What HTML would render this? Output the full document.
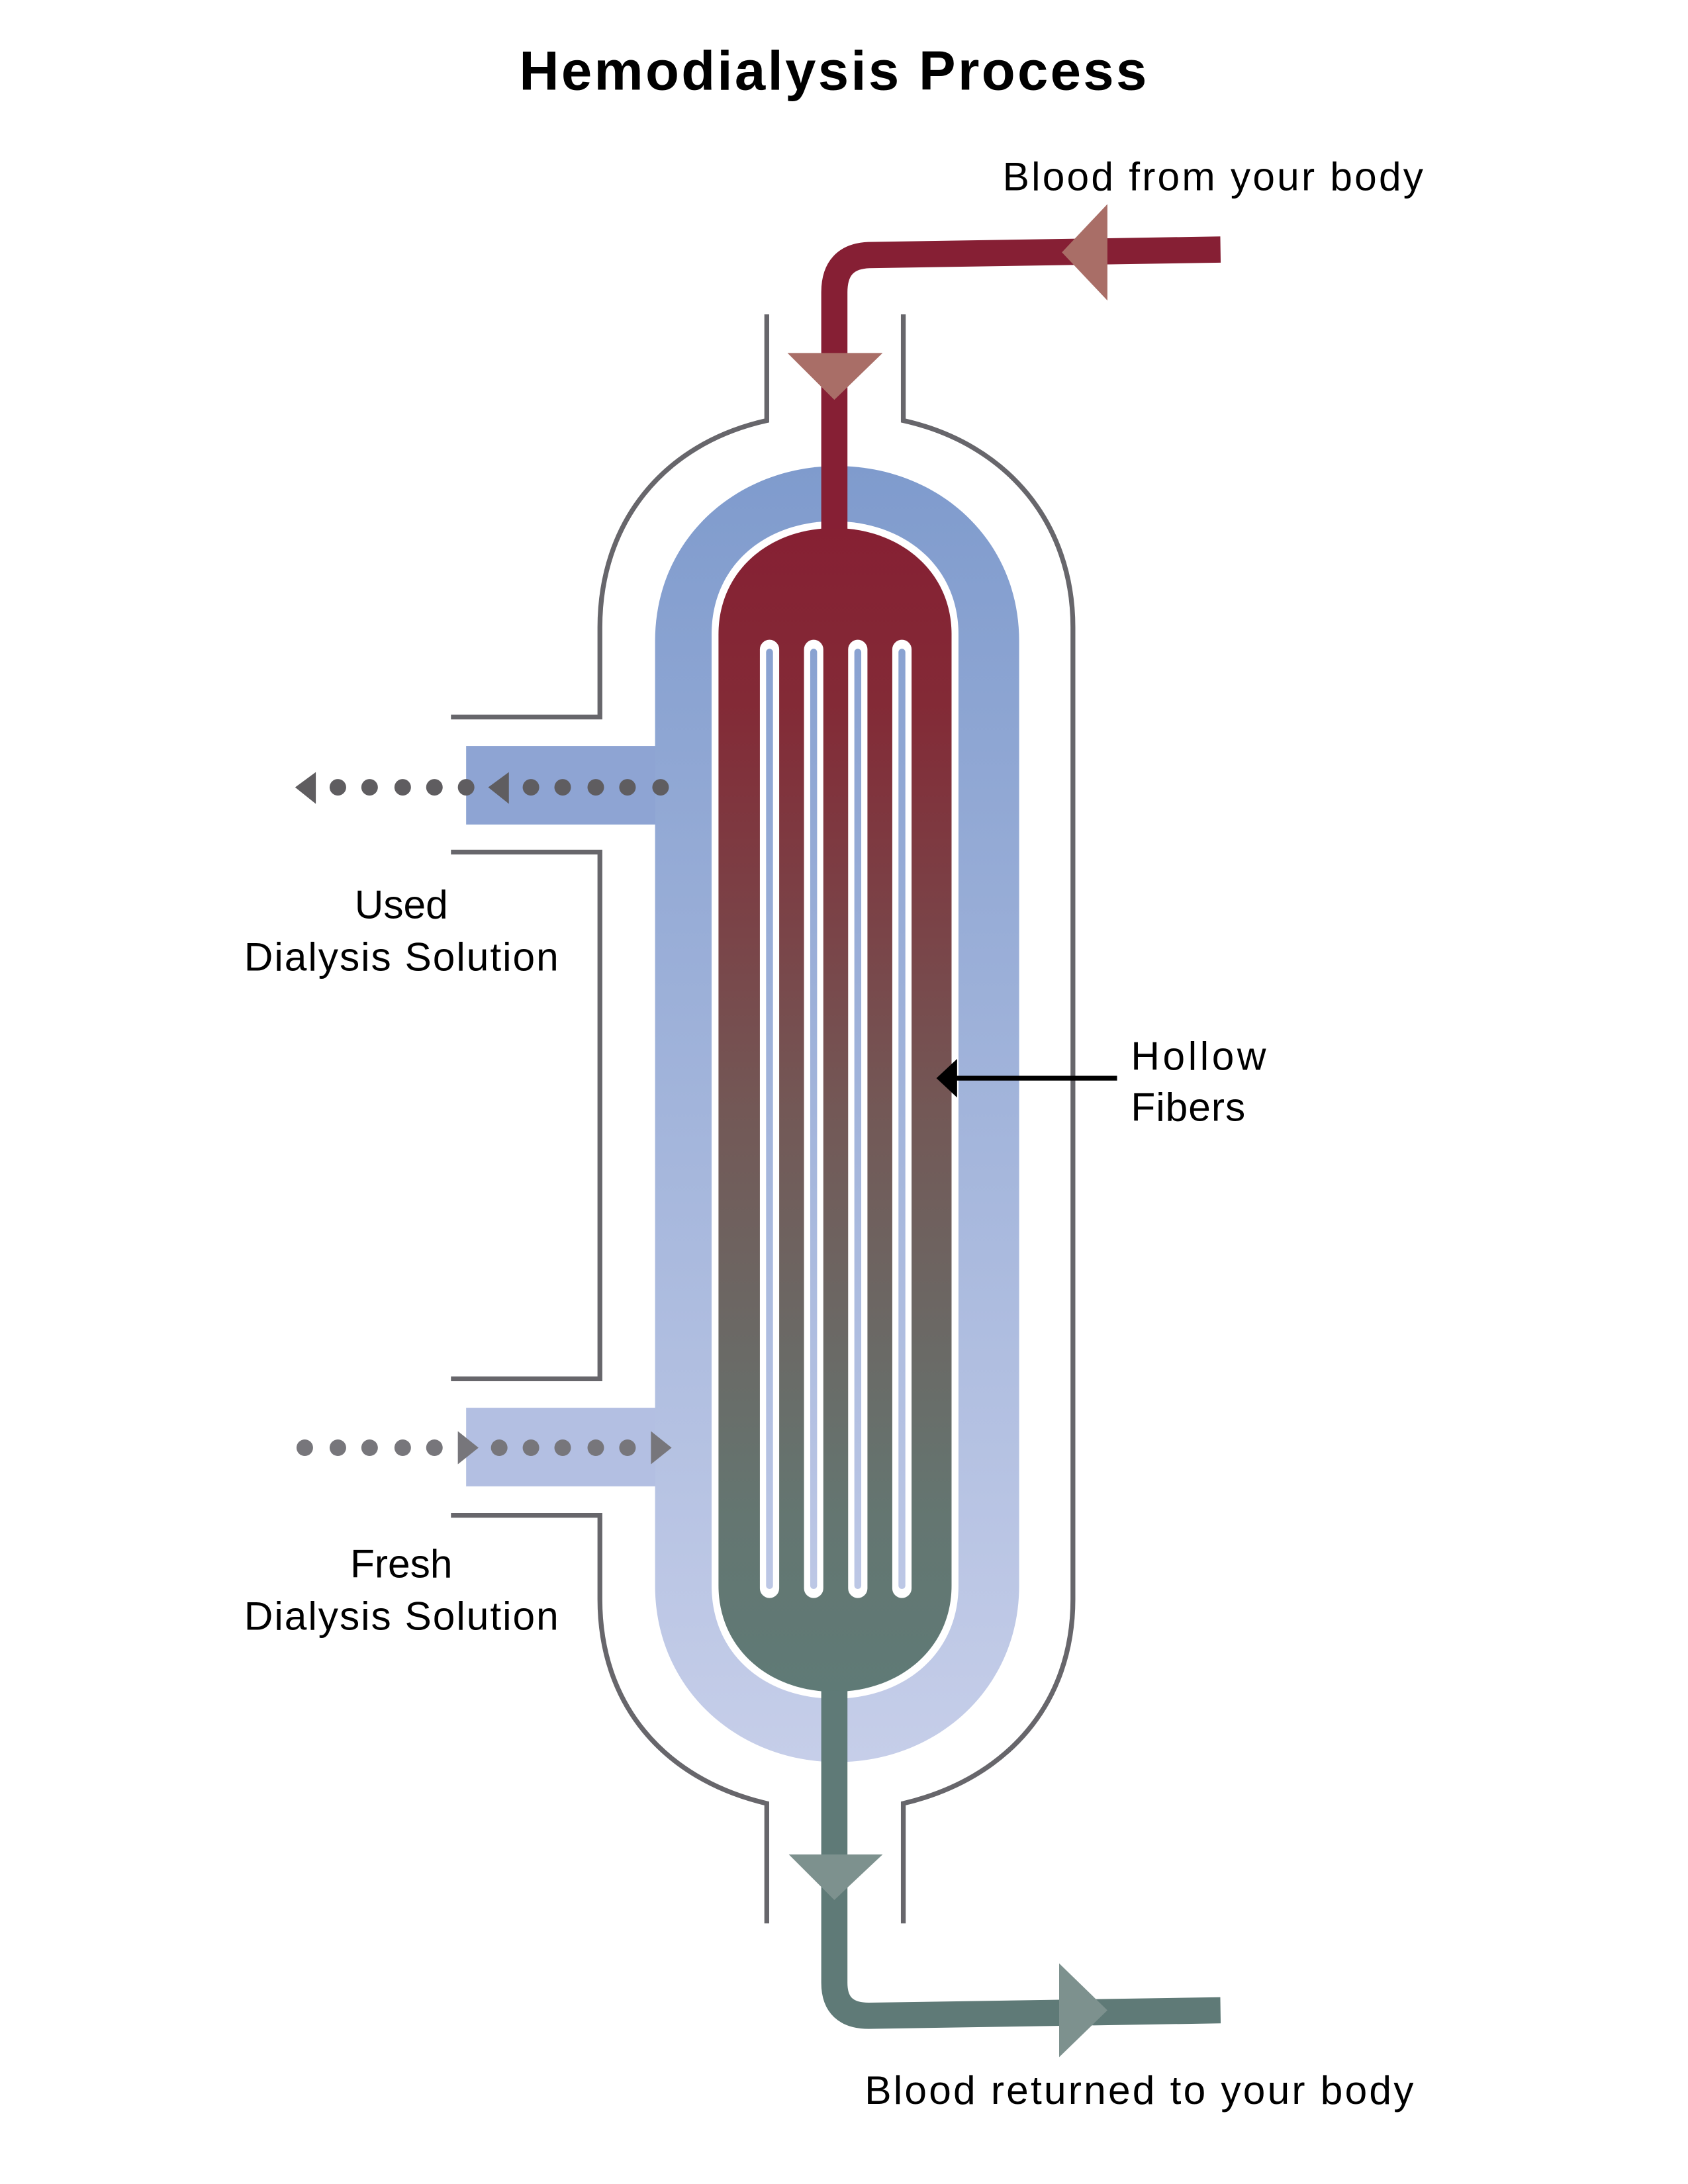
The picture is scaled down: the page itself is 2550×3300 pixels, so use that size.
<!DOCTYPE html>
<html><head><meta charset="utf-8"><style>html,body{margin:0;padding:0;background:#fff}svg{display:block}</style></head>
<body>
<svg width="2550" height="3300" viewBox="0 0 1224 1584" xmlns="http://www.w3.org/2000/svg">
<defs>
<linearGradient id="blue" x1="0" y1="0" x2="0" y2="1"><stop offset="0" stop-color="#7f9bcd"/><stop offset="1" stop-color="#c6cee9"/></linearGradient>
<linearGradient id="blueU" gradientUnits="userSpaceOnUse" x1="0" y1="338" x2="0" y2="1278"><stop offset="0" stop-color="#7f9bcd"/><stop offset="1" stop-color="#c6cee9"/></linearGradient>
<linearGradient id="blood" x1="0" y1="0" x2="0" y2="1"><stop offset="0" stop-color="#862033"/><stop offset="0.15" stop-color="#832a36"/><stop offset="0.5" stop-color="#735856"/><stop offset="0.85" stop-color="#647671"/><stop offset="1" stop-color="#5f7a76"/></linearGradient>
</defs>
<rect width="1224" height="1584" fill="#fff"/>
<text x="604" y="65" text-anchor="middle" font-family="Liberation Sans, sans-serif" font-weight="bold" font-size="40" textLength="455" fill="#000">Hemodialysis Process</text>
<text x="727" y="138" font-family="Liberation Sans, sans-serif" font-size="29" textLength="305" fill="#000">Blood from your body</text>
<text x="627" y="1526" font-family="Liberation Sans, sans-serif" font-size="29" textLength="398" fill="#000">Blood returned to your body</text>
<text x="291" y="666" text-anchor="middle" font-family="Liberation Sans, sans-serif" font-size="29" fill="#000">Used</text>
<text x="177" y="704" font-family="Liberation Sans, sans-serif" font-size="29" textLength="228" fill="#000">Dialysis Solution</text>
<text x="291" y="1144" text-anchor="middle" font-family="Liberation Sans, sans-serif" font-size="29" fill="#000">Fresh</text>
<text x="177" y="1182" font-family="Liberation Sans, sans-serif" font-size="29" textLength="228" fill="#000">Dialysis Solution</text>
<text x="820" y="776" font-family="Liberation Sans, sans-serif" font-size="29" textLength="98" fill="#000">Hollow</text>
<text x="820" y="813" font-family="Liberation Sans, sans-serif" font-size="29" textLength="83" fill="#000">Fibers</text>

<g fill="none" stroke="#67666b" stroke-width="3.5">
<path d="M556,228 L556,305 C480,322 435,380 435,455 L435,520 L327,520"/>
<path d="M655,228 L655,305 C731,322 778,380 778,455 L778,1160 C778,1235 731,1290 655,1308 L655,1395"/>
<path d="M327,618 L435,618 L435,1000 L327,1000"/>
<path d="M327,1099 L435,1099 L435,1160 C435,1235 480,1290 556,1308 L556,1395"/>
</g>

<rect x="338" y="541" width="145" height="57" fill="#8ea4d3"/>
<rect x="338" y="1021" width="145" height="57" fill="#b3bfe2"/>
<path d="M475,465 C475,390 535,338 607,338 C679,338 739,390 739,465 L739,1150 C739,1225 679,1278 607,1278 C535,1278 475,1225 475,1150 Z" fill="url(#blue)"/>
<path d="M516,460 C516,410 555,378 605,378 C655,378 695,410 695,460 L695,1150 C695,1200 655,1232 605,1232 C555,1232 516,1200 516,1150 Z" fill="#fff"/>
<path d="M521,460 C521,414 558,383 605,383 C652,383 690,414 690,460 L690,1150 C690,1196 652,1227 605,1227 C558,1227 521,1196 521,1150 Z" fill="url(#blood)"/>

<g stroke="#fff" stroke-width="14" stroke-linecap="round"><line x1="558" y1="471" x2="558" y2="1152"/><line x1="590" y1="471" x2="590" y2="1152"/><line x1="622" y1="471" x2="622" y2="1152"/><line x1="654" y1="471" x2="654" y2="1152"/></g>
<g stroke="url(#blueU)" stroke-width="5" stroke-linecap="round"><line x1="558" y1="473" x2="558" y2="1150"/><line x1="590" y1="473" x2="590" y2="1150"/><line x1="622" y1="473" x2="622" y2="1150"/><line x1="654" y1="473" x2="654" y2="1150"/></g>

<path d="M885,181 L630,185 Q605,186 605,212 L605,384" fill="none" stroke="#861f34" stroke-width="19"/>
<polygon points="770,183 803,148 803,218" fill="#a96e67"/>
<polygon points="571,256 640,256 605,290" fill="#a96e67"/>
<path d="M605,1226 L605,1438 Q605,1462 630,1462 L885,1458" fill="none" stroke="#5f7a77" stroke-width="19"/>
<polygon points="572,1345 640,1345 605,1378" fill="#7d918e"/>
<polygon points="768,1424 768,1492 803,1458" fill="#7d918e"/>

<line x1="810" y1="782" x2="690" y2="782" stroke="#000" stroke-width="3.5"/>
<polygon points="679,782 694,768 694,796" fill="#000"/>

<g fill="#5f5d60">
<polygon points="214,571 229,560 229,583"/>
<circle cx="245" cy="571" r="6"/><circle cx="268" cy="571" r="6"/><circle cx="292" cy="571" r="6"/><circle cx="315" cy="571" r="6"/><circle cx="338" cy="571" r="6"/>
<polygon points="354,571 369,560 369,583"/>
<circle cx="385" cy="571" r="6"/><circle cx="408" cy="571" r="6"/><circle cx="432" cy="571" r="6"/><circle cx="455" cy="571" r="6"/><circle cx="479" cy="571" r="6"/>
</g>
<g fill="#77767b">
<circle cx="221" cy="1050" r="6"/><circle cx="245" cy="1050" r="6"/><circle cx="268" cy="1050" r="6"/><circle cx="292" cy="1050" r="6"/><circle cx="315" cy="1050" r="6"/>
<polygon points="332,1038 347,1050 332,1062"/>
<circle cx="362" cy="1050" r="6"/><circle cx="385" cy="1050" r="6"/><circle cx="408" cy="1050" r="6"/><circle cx="432" cy="1050" r="6"/><circle cx="455" cy="1050" r="6"/>
<polygon points="472,1038 487,1050 472,1062"/>
</g>
</svg>
</body></html>
